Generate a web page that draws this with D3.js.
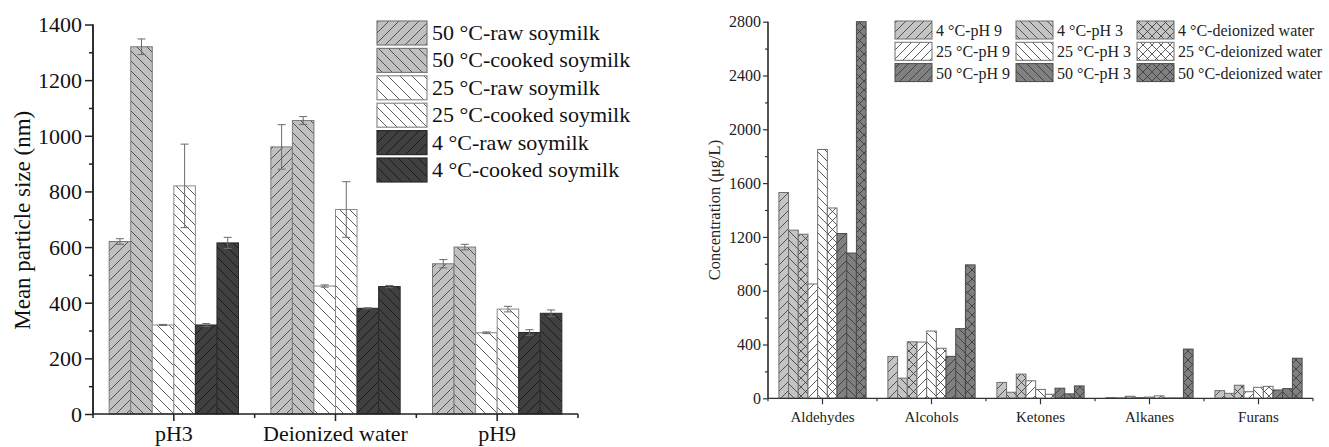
<!DOCTYPE html>
<html><head><meta charset="utf-8">
<script src="https://cdn.jsdelivr.net/npm/d3@7"></script>
<style>body{margin:0;background:#fff}svg{display:block}</style>
</head><body><svg id="c" width="1329" height="447"></svg>
<script>
// ---------- Left chart data ----------
const leftGroups = ["pH3", "Deionized water", "pH9"];
const leftSeries = ["50 °C-raw soymilk", "50 °C-cooked soymilk", "25 °C-raw soymilk", "25 °C-cooked soymilk", "4 °C-raw soymilk", "4 °C-cooked soymilk"];
const leftValues = [
  [620, 1320, 320, 820, 320, 615],
  [960, 1055, 460, 735, 380, 458],
  [540, 600, 292, 377, 293, 362]
];
const leftErrors = [
  [10, 28, 2, 150, 5, 20],
  [80, 14, 4, 100, 2, 4],
  [15, 10, 3, 10, 10, 12]
];
const leftTicks = [0, 200, 400, 600, 800, 1000, 1200, 1400];

// ---------- Right chart data ----------
const rightGroups = ["Aldehydes", "Alcohols", "Ketones", "Alkanes", "Furans"];
const rightSeries = ["4 °C-pH 9", "4 °C-pH 3", "4 °C-deionized water", "25 °C-pH 9", "25 °C-pH 3", "25 °C-deionized water", "50 °C-pH 9", "50 °C-pH 3", "50 °C-deionized water"];
const rightValues = [
  [1530, 1250, 1220, 850, 1850, 1415, 1225, 1080, 2800],
  [310, 150, 420, 418, 500, 372, 312, 518, 992],
  [118, 45, 180, 130, 66, 30, 75, 33, 92],
  [5, 3, 15, 6, 9, 18, 2, 2, 366],
  [57, 37, 97, 49, 82, 89, 62, 72, 298]
];
const rightTicks = [0, 400, 800, 1200, 1600, 2000, 2400, 2800];

const FONT = '"Liberation Serif"';
const svg = d3.select("#c");
const defs = svg.append("defs");

function txt(sel, size, color) {
  return sel.style("font-family", FONT).style("font-size", size + "px").attr("fill", color || "#111");
}

function makePattern(id, fill, kind, size, lineColor) {
  const p = defs.append("pattern").attr("id", id).attr("patternUnits", "userSpaceOnUse")
    .attr("width", size).attr("height", size);
  p.append("rect").attr("width", size).attr("height", size).attr("fill", fill);
  const s = size;
  const fwd = `M0,${s} L${s},0 M${-s/4},${s/4} L${s/4},${-s/4} M${s*3/4},${s*5/4} L${s*5/4},${s*3/4}`;
  const bwd = `M0,0 L${s},${s} M${-s/4},${s*3/4} L${s/4},${s*5/4} M${s*3/4},${-s/4} L${s*5/4},${s/4}`;
  const d = kind === "/" ? fwd : kind === "\\" ? bwd : fwd + " " + bwd;
  p.append("path").attr("d", d).attr("stroke", lineColor).attr("stroke-width", 0.8).attr("fill", "none");
}

// left patterns
const leftFill = ["#c0c0c0", "#c0c0c0", "#ffffff", "#ffffff", "#404040", "#404040"];
const leftKind = ["/", "\\", "\\", "\\", "/", "\\"];
const leftStroke = ["#7a7a7a", "#7a7a7a", "#8a8a8a", "#8a8a8a", "#2a2a2a", "#2a2a2a"];
leftSeries.forEach((s, i) => makePattern("lp" + i, leftFill[i], leftKind[i], i === 2 ? 12 : 10, i >= 4 ? "#111" : "#333"));

// right patterns
const rightFill = ["#c4c4c4", "#c4c4c4", "#c4c4c4", "#ffffff", "#ffffff", "#ffffff", "#808080", "#808080", "#808080"];
const rightKind = ["/", "\\", "x", "/", "\\", "x", "/", "\\", "x"];
const rightStroke = ["#6e6e6e", "#6e6e6e", "#6e6e6e", "#6e6e6e", "#6e6e6e", "#6e6e6e", "#4a4a4a", "#4a4a4a", "#4a4a4a"];
rightSeries.forEach((s, i) => makePattern("rp" + i, rightFill[i], rightKind[i], 9, "#333"));

// ================= LEFT CHART =================
(function () {
  const L = 93, R = 578, T = 24.5, B = 414;
  const x0 = d3.scaleBand().domain(leftGroups).range([L, R]).paddingInner(0.2).paddingOuter(0.1);
  const x1 = d3.scaleBand().domain(leftSeries).range([0, x0.bandwidth()]);
  const y = d3.scaleLinear().domain([0, 1400]).range([B, T]);
  const g = svg.append("g");

  leftGroups.forEach((grp, gi) => {
    leftSeries.forEach((s, si) => {
      const v = leftValues[gi][si];
      const bx = x0(grp) + x1(s);
      g.append("rect").attr("x", bx).attr("y", y(v)).attr("width", x1.bandwidth()).attr("height", y(0) - y(v))
        .attr("fill", `url(#lp${si})`).attr("stroke", leftStroke[si]).attr("stroke-width", 1);
      const e = leftErrors[gi][si];
      const cx = bx + x1.bandwidth() / 2;
      const eg = g.append("g").attr("stroke", "#6a6a6a").attr("stroke-width", 1);
      eg.append("line").attr("x1", cx).attr("x2", cx).attr("y1", y(v - e)).attr("y2", y(v + e));
      eg.append("line").attr("x1", cx - 4).attr("x2", cx + 4).attr("y1", y(v - e)).attr("y2", y(v - e));
      eg.append("line").attr("x1", cx - 4).attr("x2", cx + 4).attr("y1", y(v + e)).attr("y2", y(v + e));
    });
  });

  const minor = d3.range(100, 1400, 200);
  const ya = svg.append("g").attr("transform", `translate(${L},0)`);
  ya.call(d3.axisLeft(y).tickValues(minor).tickSize(4).tickFormat(""));
  const yb = svg.append("g").attr("transform", `translate(${L},0)`);
  yb.call(d3.axisLeft(y).tickValues(leftTicks).tickSize(8).tickPadding(3).tickFormat(d3.format("d")));
  [ya, yb].forEach(a => { a.attr("font-family", null); a.selectAll("path,line").attr("stroke", "#222").attr("stroke-width", 1.5); a.select(".domain").attr("d", `M0,${T}V${B}`); });
  txt(yb.selectAll("text"), 22).attr("dy", "0.34em");

  const xa = svg.append("g").attr("transform", `translate(0,${B})`);
  xa.append("line").attr("x1", L).attr("x2", R).attr("stroke", "#222").attr("stroke-width", 1.5);
  leftGroups.forEach(grp => {
    const cx = x0(grp) + x0.bandwidth() / 2;
    xa.append("line").attr("x1", cx).attr("x2", cx).attr("y1", 0).attr("y2", 7).attr("stroke", "#222").attr("stroke-width", 1.5);
    txt(xa.append("text").attr("x", cx).attr("y", 27).attr("text-anchor", "middle"), 22).text(grp);
  });
  const step = x0.step();
  d3.range(4).forEach(i => {
    const bx = L + i * step;
    xa.append("line").attr("x1", bx).attr("x2", bx).attr("y1", 0).attr("y2", 4).attr("stroke", "#222").attr("stroke-width", 1.5);
  });

  txt(svg.append("text").attr("transform", `translate(30,${(T + B) / 2 + 1}) rotate(-90)`).attr("text-anchor", "middle"), 23)
    .text("Mean particle size (nm)");

  const lg = svg.append("g");
  leftSeries.forEach((s, i) => {
    const yy = 21 + i * 27.4;
    lg.append("rect").attr("x", 377).attr("y", yy).attr("width", 50).attr("height", 24)
      .attr("fill", `url(#lp${i})`).attr("stroke", leftStroke[i]).attr("stroke-width", 1.2);
    txt(lg.append("text").attr("x", 432).attr("y", yy + 19), 22).text(s);
  });
})();

// ================= RIGHT CHART =================
(function () {
  const L = 768, R = 1313, T = 21.7, B = 398.3;
  const x0 = d3.scaleBand().domain(rightGroups).range([L, R]).paddingInner(0.2).paddingOuter(0.1);
  const x1 = d3.scaleBand().domain(rightSeries).range([0, x0.bandwidth()]);
  const y = d3.scaleLinear().domain([0, 2800]).range([B, T]);
  const g = svg.append("g");

  rightGroups.forEach((grp, gi) => {
    rightSeries.forEach((s, si) => {
      const v = rightValues[gi][si];
      g.append("rect").attr("x", x0(grp) + x1(s)).attr("y", y(v)).attr("width", x1.bandwidth()).attr("height", y(0) - y(v))
        .attr("fill", `url(#rp${si})`).attr("stroke", rightStroke[si]).attr("stroke-width", 1);
    });
  });

  const minor = d3.range(200, 2800, 400);
  const ya = svg.append("g").attr("transform", `translate(${L},0)`);
  ya.call(d3.axisLeft(y).tickValues(minor).tickSize(3).tickFormat(""));
  const yb = svg.append("g").attr("transform", `translate(${L},0)`);
  yb.call(d3.axisLeft(y).tickValues(rightTicks).tickSize(5).tickPadding(2).tickFormat(d3.format("d")));
  [ya, yb].forEach(a => { a.attr("font-family", null); a.selectAll("path,line").attr("stroke", "#333").attr("stroke-width", 1.2); a.select(".domain").attr("d", `M0,${T}V${B}`); });
  txt(yb.selectAll("text"), 16, "#222");

  const xa = svg.append("g").attr("transform", `translate(0,${B})`);
  xa.append("line").attr("x1", L).attr("x2", R).attr("stroke", "#333").attr("stroke-width", 1.2);
  rightGroups.forEach(grp => {
    const cx = x0(grp) + x0.bandwidth() / 2;
    xa.append("line").attr("x1", cx).attr("x2", cx).attr("y1", 0).attr("y2", 6).attr("stroke", "#333").attr("stroke-width", 1.2);
    txt(xa.append("text").attr("x", cx).attr("y", 24).attr("text-anchor", "middle"), 15, "#222").text(grp);
  });
  const step = x0.step();
  d3.range(6).forEach(i => {
    const bx = L + i * step;
    xa.append("line").attr("x1", bx).attr("x2", bx).attr("y1", 0).attr("y2", 3).attr("stroke", "#333").attr("stroke-width", 1.2);
  });

  txt(svg.append("text").attr("transform", `translate(720,${(T + B) / 2}) rotate(-90)`).attr("text-anchor", "middle"), 16.5, "#222")
    .text("Concentration (μg/L)");

  const colX = [895, 1016, 1137];
  const lg = svg.append("g");
  rightSeries.forEach((s, i) => {
    const temp = Math.floor(i / 3), cond = i % 3;
    const xx = colX[cond], yy = 21 + temp * 21.3;
    lg.append("rect").attr("x", xx).attr("y", yy).attr("width", 37).attr("height", 18)
      .attr("fill", `url(#rp${i})`).attr("stroke", rightStroke[i]).attr("stroke-width", 1);
    txt(lg.append("text").attr("x", xx + 41).attr("y", yy + 15), 16, "#222").text(s);
  });
})();
</script></body></html>
